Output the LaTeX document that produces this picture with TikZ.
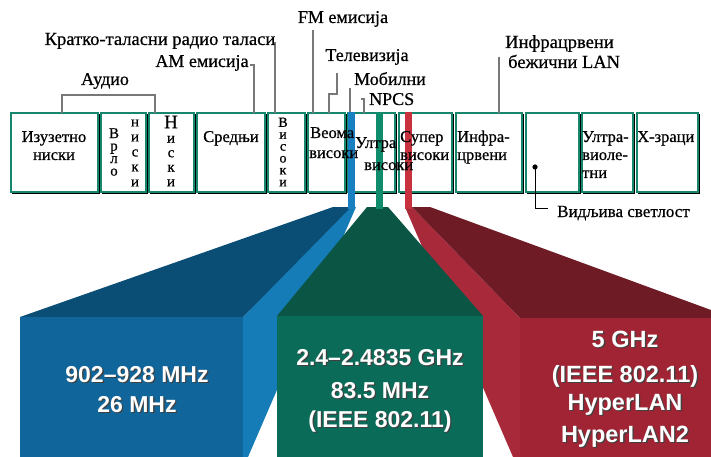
\documentclass[tikz,border=0pt]{standalone}
\usepackage{fontspec}
\setmainfont{Liberation Serif}[FakeBold=0.6]
\newfontfamily\bigsans{Liberation Sans}
\definecolor{teal1}{RGB}{22,134,108}
\definecolor{conngray}{RGB}{120,120,120}
\definecolor{bluefront}{RGB}{16,102,155}
\definecolor{bluetop}{RGB}{10,78,117}
\definecolor{blueside}{RGB}{22,124,183}
\definecolor{blueline}{RGB}{24,128,192}
\definecolor{greenfront}{RGB}{10,107,88}
\definecolor{greentop}{RGB}{11,85,69}
\definecolor{greenline}{RGB}{14,140,108}
\definecolor{redfront}{RGB}{160,36,51}
\definecolor{redtop}{RGB}{111,27,38}
\definecolor{redside}{RGB}{168,42,58}
\definecolor{redline}{RGB}{200,50,63}
\newcommand\shd[1]{\rlap{\kern1.3pt\raisebox{-1.3pt}{\textcolor{black!75}{#1}}}#1}
\begin{document}
\begin{tikzpicture}[x=1pt,y=-1pt,
  cell/.style={draw=teal1, line width=2.2pt, fill=white, inner sep=0pt, outer sep=0pt, minimum height=78.8pt},
  conn/.style={draw=conngray, line width=2pt},
  lab/.style={font=\fontsize{18}{20}\selectfont, inner sep=0pt, anchor=base},
  labw/.style={lab, anchor=base west},
  ctxt/.style={font=\fontsize{16.5}{18}\selectfont, inner sep=0pt, anchor=base},
  ctxtw/.style={ctxt, anchor=base west},
  vstack/.style={inner sep=0pt, align=center, anchor=center},
  big/.style={font=\bigsans\bfseries\fontsize{23}{26}\selectfont, text=white, inner sep=0pt, anchor=base},
  vline/.style={line width=7pt},
]
\useasboundingbox (0,0) rectangle (711,457);

% ---- funnels ----
% blue
\fill[blueside] (349,207) -- (356,207) -- (248,457) -- (243,457) -- (243,317) -- cycle;
\fill[bluetop] (20,317) -- (243,317) -- (351,207) -- (333,207) -- cycle;
\fill[bluefront] (20,317) rectangle (243,457);
% red
\fill[redside] (405,207) -- (412,207) -- (520,318) -- (520,457) -- (513,457) -- cycle;
\fill[redtop] (412,207) -- (430,207) -- (711,310) -- (711,318) -- (520,318) -- cycle;
\fill[redfront] (520,318) rectangle (711,457);
% green
\fill[greentop] (367,207) -- (388,207) -- (483,316) -- (277,316) -- cycle;
\fill[greenfront] (277,316) rectangle (483,457);

% ---- label connectors ----
\coordinate (auL) at (62,95);
\coordinate (auR) at (155,95);
\coordinate (amT) at (250,65);
\coordinate (amC) at (254,65);
\coordinate (ktT) at (275,42);
\coordinate (fmT) at (313,30);
\coordinate (tvT) at (337,73);
\coordinate (tvK) at (337,94);
\coordinate (tvJ) at (329,94);
\coordinate (mobT) at (350,88);
\coordinate (npT) at (361,99);
\coordinate (npC) at (364,99);
\coordinate (irT) at (499,57);

% ---- band cells ----
\foreach \a/\b [count=\i] in {10/99,100/147,148/195,196/266,267/306,307/346,347/396,398/453,455/523,525/580,581/634,636/699} {
  \pgfmathsetmacro\w{\b-\a-2.2}
  \pgfmathsetmacro\cx{(\a+\b)/2}
  \fill[black] (\a+2,114) rectangle (\b+1,193.8);
  \node[cell, minimum width=\w pt] (c\i) at (\cx,152.5) {};
}

\draw[conn] (auL |- c1.north) -- (auL) -- (auR) -- (auR |- c3.north);
\draw[conn] (amT) -- (amC) -- (amC |- c4.north);
\draw[conn] (ktT) -- (ktT |- c5.north);
\draw[conn] (fmT) -- (fmT |- c6.north);
\draw[conn] (tvT) -- (tvK) -- (tvJ) -- (tvJ |- c6.north);
\draw[conn] (mobT) -- (mobT |- c7.north);
\draw[conn] (npT) -- (npC) -- (npC |- c7.north);
\draw[conn] (irT) -- (irT |- c9.north);

% ---- coloured band lines ----
\coordinate (bl) at (351.5,112);
\coordinate (gl) at (379.5,112);
\coordinate (rl) at (408.5,112);
\draw[vline, blueline] (bl) -- (351.5,209);
\draw[vline, greenline] (gl) -- (379.5,209);
\draw[vline, redline] (rl) -- (408.5,209);

% ---- top labels ----
\node[lab] (fm) at (343,23) {FM емисија};
\node[lab, font=\fontsize{18.5}{20}\selectfont] (kt) at (160,45) {Кратко-таласни радио таласи};
\node[lab] (am) at (202,67) {AM емисија};
\node[lab] (tv) at (367,61) {Телевизија};
\node[lab] (au) at (105,85) {Аудио};
\node[labw] (mob) at (354,85) {Мобилни};
\node[labw] (npcs) at (369,105) {NPCS};
\node[labw, font=\fontsize{18.5}{20}\selectfont] (ir1) at (505,48) {Инфрацрвени};
\node[labw, font=\fontsize{18.5}{20}\selectfont] (ir2) at (508,68) {бежични LAN};

% ---- cell texts ----
\node[ctxt] (t1a) at (54,142) {Изузетно};
\node[ctxt] (t1b) at (54,160) {ниски};
\node[vstack, font=\fontsize{15}{12.5}\selectfont] (t2a) at (114,152) {В\\р\\л\\о};
\node[vstack, font=\fontsize{15}{15}\selectfont] (t2b) at (135,153) {н\\и\\с\\к\\и};
\node[vstack, font=\fontsize{15}{14.5}\selectfont] (t3) at (171,151) {{\fontsize{19}{19}\selectfont Н}\\и\\с\\к\\и};
\node[ctxt] (t4) at (231,142) {Средњи};
\node[vstack, font=\fontsize{14}{11.9}\selectfont] (t5) at (283,152) {В\\и\\с\\о\\к\\и};
\node[ctxtw] (t6a) at (310,138) {Веома};
\node[ctxtw] (t6b) at (309,158) {високи};
\node[ctxtw] (t7a) at (355,148) {Ултра};
\node[ctxtw] (t7b) at (364,170) {високи};
\node[ctxtw] (t8a) at (400,142) {Супер};
\node[ctxtw] (t8b) at (400,160) {високи};
\node[ctxtw] (t9a) at (457,142) {Инфра-};
\node[ctxtw] (t9b) at (457,160) {црвени};
\node[ctxtw] (t11a) at (582,142) {Ултра-};
\node[ctxtw] (t11b) at (582,160) {виоле-};
\node[ctxtw] (t11c) at (582,178) {тни};
\node[ctxtw] (t12) at (637,142) {X-зраци};

% ---- visible light ----
\fill (535,167) circle (2.6) coordinate (dot);
\coordinate (visK) at (535,208);
\node[labw, font=\fontsize{17}{19}\selectfont] (vis) at (557,217) {Видљива светлост};
\draw[line width=1pt] (dot) -- (visK) -- (548,208) coordinate (visE);

% ---- big texts ----
\node[big] (b1) at (137,382) {\shd{902–928 MHz}};
\node[big] (b2) at (137,412) {\shd{26 MHz}};
\node[big] (g1) at (380,365) {\shd{2.4–2.4835 GHz}};
\node[big] (g2) at (380,398) {\shd{83.5 MHz}};
\node[big] (g3) at (380,427) {\shd{(IEEE 802.11)}};
\node[big, font=\bigsans\bfseries\fontsize{23.5}{26}\selectfont] (r1) at (625,347) {\shd{5 GHz}};
\node[big, font=\bigsans\bfseries\fontsize{23.5}{26}\selectfont] (r2) at (625,382) {\shd{(IEEE 802.11)}};
\node[big, font=\bigsans\bfseries\fontsize{23.5}{26}\selectfont] (r3) at (625,410) {\shd{HyperLAN}};
\node[big, font=\bigsans\bfseries\fontsize{23.5}{26}\selectfont] (r4) at (625,442) {\shd{HyperLAN2}};
\end{tikzpicture}
\end{document}
